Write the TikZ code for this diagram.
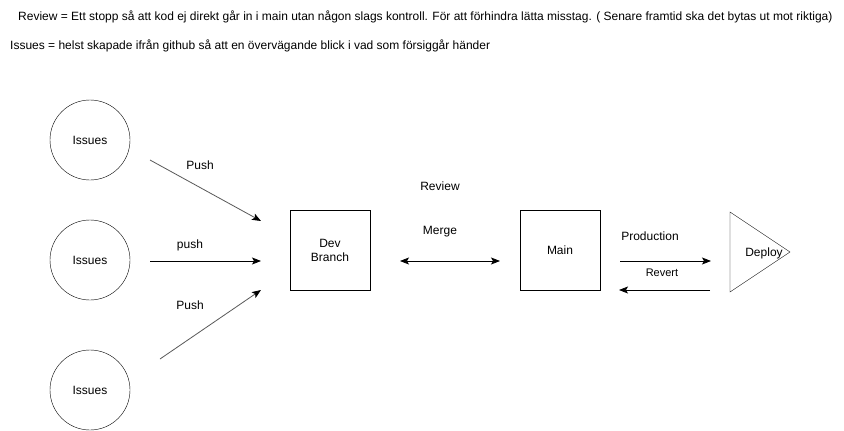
\documentclass[tikz,border=0pt]{standalone}
\usepackage{fontspec}
\setmainfont{Liberation Sans}
\usetikzlibrary{arrows.meta}
\tikzset{
  issue/.style={draw,circle,minimum size=80pt,inner sep=0pt,font=\fontsize{12}{14}\selectfont},
  box/.style={draw,minimum size=80pt,inner sep=0pt,align=center,font=\fontsize{12}{14}\selectfont},
  lbl/.style={font=\fontsize{12}{14}\selectfont,inner sep=0pt},
  flow/.style={-{Stealth[length=9pt,width=7pt,inset=2pt]},line width=0.8pt},
  grayflow/.style={flow,draw=black!65,-{Stealth[length=9pt,width=7pt,inset=2pt,black]}}
}
\begin{document}
\begin{tikzpicture}[x=1pt,y=-1pt]
\useasboundingbox[fill=white] (0,0) rectangle (844,431);
%notes
\node[lbl,anchor=west] (note1) at (18,17) {Review = Ett stopp så att kod ej direkt går in i main utan någon slags kontroll. För att förhindra lätta misstag. ( Senare framtid ska det bytas ut mot riktiga)};
\node[lbl,anchor=west] (note2) at (10,46) {Issues = helst skapade ifrån github så att en övervägande blick i vad som försiggår händer};
%issues
\node[issue] (issueA) at (90,140) {Issues};
\node[issue] (issueB) at (90,260) {Issues};
\node[issue] (issueC) at (90,390) {Issues};
%boxes
\node[box] (dev) at (330,250) {Dev\\Branch};
\node[box] (main) at (560,250) {Main};
\draw (730,212) -- (730,292) -- (790,252) -- cycle;
\node[lbl] (deploy) at (764,253) {Deploy};
%arrows
\coordinate (pA1) at (150,160); \coordinate (pA2) at (261,221);
\coordinate (pB1) at (150,261); \coordinate (pB2) at (261,261);
\coordinate (pC1) at (160,359); \coordinate (pC2) at (261,290);
\draw[grayflow] (pA1) -- (pA2);
\draw[flow] (pB1) -- (pB2);
\draw[grayflow] (pC1) -- (pC2);
\node[lbl] (pushA) at (200,165) {Push};
\node[lbl] (pushB) at (190,245) {push};
\node[lbl] (pushC) at (190,305) {Push};
\coordinate (m1) at (400,261); \coordinate (m2) at (500,261);
\draw[flow,{Stealth[length=9pt,width=7pt,inset=2pt]}-{Stealth[length=9pt,width=7pt,inset=2pt]}] (m1) -- (m2);
\node[lbl] (merge) at (440,232) {Merge};
\node[lbl] (review) at (440,186) {Review};
\coordinate (p1) at (620,261); \coordinate (p2) at (711,261);
\coordinate (r1) at (710,290); \coordinate (r2) at (619,290);
\draw[flow] (p1) -- (p2);
\draw[flow] (r1) -- (r2);
\node[lbl] (prod) at (650,236) {Production};
\node[lbl,font=\fontsize{11}{13}\selectfont] (revert) at (662,273) {Revert};
\end{tikzpicture}
\end{document}
